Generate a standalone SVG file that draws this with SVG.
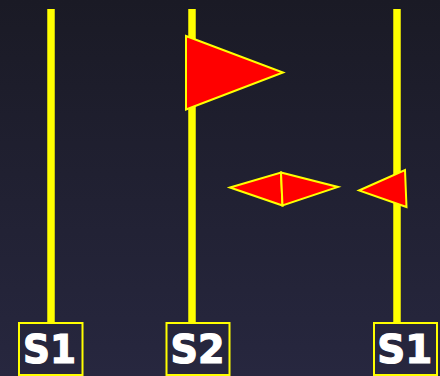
<svg xmlns="http://www.w3.org/2000/svg" width="440" height="376" viewBox="0 0 440 376">
  <defs>
    <linearGradient id="bg" x1="0" y1="0" x2="0" y2="1">
      <stop offset="0" stop-color="#1a1a25"/>
      <stop offset="1" stop-color="#27273f"/>
    </linearGradient>
    <style>
      .pole { stroke: #ffff00; stroke-width: 7.5; }
      .box { fill: none; stroke: #ffff00; stroke-width: 2; }
      .lbl { font-family: "DejaVu Sans", Verdana, sans-serif; font-weight: bold; font-size: 39px; fill: #ffffff; stroke: #ffffff; stroke-width: 1.2; text-anchor: middle; }
      .flag { fill: #ff0000; stroke: #ffff00; stroke-width: 2; stroke-linejoin: miter; }
    </style>
  </defs>
  <rect width="440" height="376" fill="url(#bg)"/>
  <g id="connectors">
    <line class="pole" x1="51" y1="9" x2="51" y2="323"/>
    <line class="pole" x1="192" y1="9" x2="192" y2="323"/>
    <line class="pole" x1="397" y1="9" x2="397" y2="323"/>
  </g>
  <g id="flag-s2">
    <polygon class="flag" points="186,36 283,72.5 186,109.5"/>
  </g>
  <g id="diamond">
    <polygon class="flag" points="230,187.5 281,172.5 282.5,205.5"/>
    <polygon class="flag" points="281,172.5 338,187 282.5,205.5"/>
  </g>
  <g id="flag-s1-right">
    <polygon class="flag" points="359,190.5 405,170 406.5,207"/>
  </g>
  <g id="node-s1-left">
    <rect class="box" x="19" y="323" width="63.5" height="52"/>
    <text class="lbl" x="49.5" y="363" textLength="53" lengthAdjust="spacingAndGlyphs">S1</text>
  </g>
  <g id="node-s2">
    <rect class="box" x="166.5" y="323" width="63" height="52"/>
    <text class="lbl" x="197.5" y="362.5" textLength="54" lengthAdjust="spacingAndGlyphs">S2</text>
  </g>
  <g id="node-s1-right">
    <rect class="box" x="374" y="323" width="63" height="52"/>
    <text class="lbl" x="404.7" y="363" textLength="55" lengthAdjust="spacingAndGlyphs">S1</text>
  </g>
</svg>
